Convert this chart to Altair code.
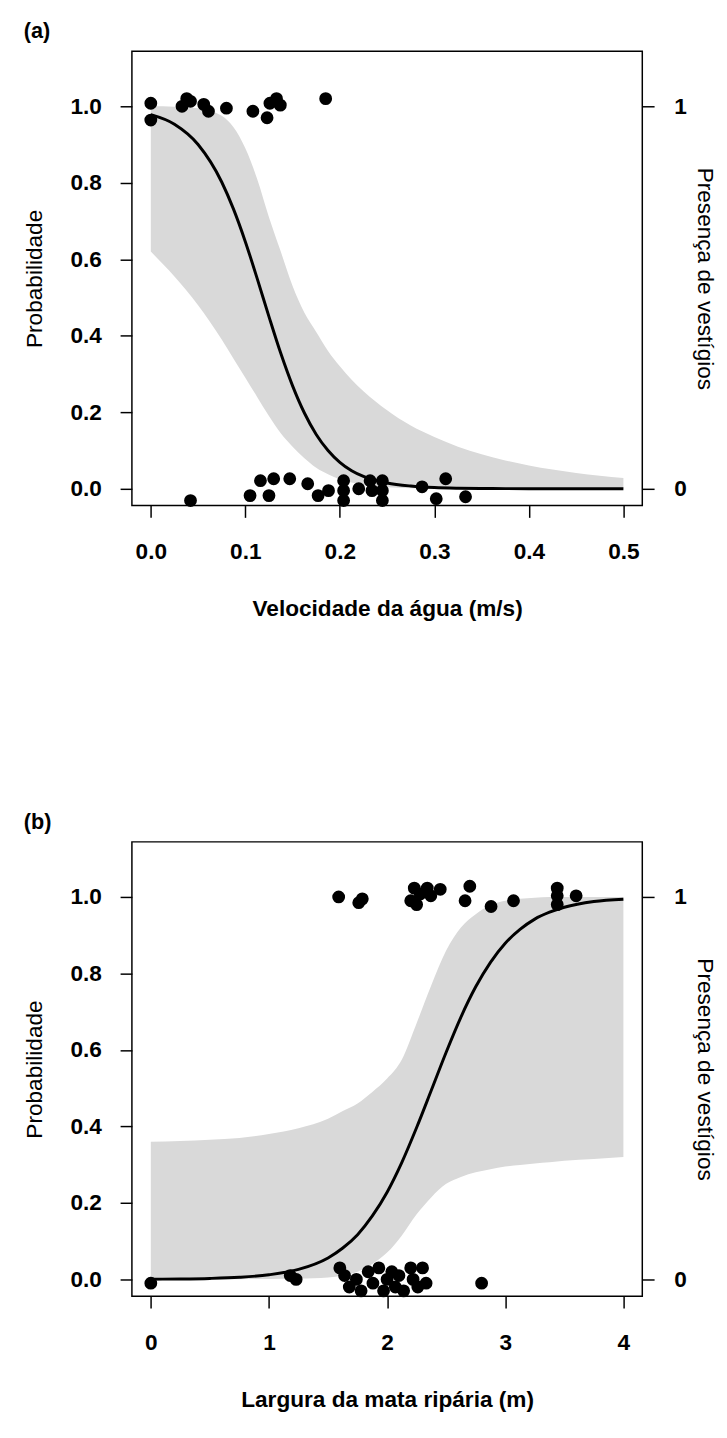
import altair as alt
import pandas as pd

# ---------------- Panel (a): Velocidade da água ----------------
a_x = [0, 0.025, 0.05, 0.075, 0.0875, 0.1, 0.1125, 0.125, 0.1375, 0.15, 0.1625, 0.175,
       0.1875, 0.2, 0.2125, 0.225, 0.25, 0.275, 0.3, 0.325, 0.35, 0.375, 0.4, 0.425,
       0.45, 0.475, 0.5]
a_fit = [0.978, 0.953, 0.900, 0.802, 0.731, 0.646, 0.55, 0.450, 0.354, 0.269, 0.198, 0.142,
         0.10, 0.069, 0.047, 0.032, 0.015, 0.007, 0.003, 0.0013, 0.0006, 0.0003, 0.0001,
         0.0001, 0.0, 0.0, 0.0]
a_lo = [0.62, 0.555, 0.48, 0.39, 0.34, 0.29, 0.24, 0.19, 0.145, 0.11, 0.08, 0.055,
        0.038, 0.025, 0.016, 0.01, 0.004, 0.0015, 0.0006, 0.0002, 0.0001, 0.0, 0.0, 0.0,
        0.0, 0.0, 0.0]
a_hi = [1.0, 0.999, 0.995, 0.975, 0.945, 0.89, 0.81, 0.71, 0.62, 0.53, 0.46, 0.41,
        0.36, 0.32, 0.285, 0.255, 0.205, 0.165, 0.135, 0.11, 0.09, 0.074, 0.061, 0.05,
        0.041, 0.034, 0.028]

a_pts_x = [0.0, 0.0, 0.033, 0.038, 0.042, 0.056, 0.061, 0.080, 0.108, 0.123, 0.126,
           0.133, 0.137, 0.185,
           0.042, 0.105, 0.116, 0.125, 0.130, 0.147, 0.166, 0.177, 0.188, 0.204,
           0.204, 0.204, 0.220, 0.232, 0.234, 0.245, 0.245, 0.245, 0.287, 0.302,
           0.312, 0.333]
a_pts_y = [1.008, 0.964, 1.0, 1.02, 1.013, 1.005, 0.987, 0.995, 0.987, 0.97, 1.008,
           1.02, 1.003, 1.02,
           -0.031, -0.018, 0.021, -0.018, 0.026, 0.026, 0.013, -0.018, -0.005, 0.021,
           -0.005, -0.031, 0.0, 0.021, -0.005, 0.021, -0.005, -0.031, 0.005, -0.026,
           0.026, -0.021]

# ---------------- Panel (b): Largura da mata ripária ----------------
b_x = [0, 0.25, 0.5, 0.75, 1.0, 1.25, 1.5, 1.625, 1.75, 1.875, 2.0, 2.125, 2.25, 2.375,
       2.5, 2.625, 2.75, 2.875, 3.0, 3.125, 3.25, 3.375, 3.5, 3.75, 4.0]
b_fit = [0.0005, 0.0011, 0.0025, 0.0055, 0.012, 0.026, 0.056, 0.082, 0.117, 0.166, 0.228,
         0.306, 0.397, 0.495, 0.594, 0.686, 0.765, 0.829, 0.879, 0.915, 0.942, 0.96,
         0.973, 0.988, 0.994]
b_lo = [0.0, 0.0, 0.0002, 0.0005, 0.001, 0.002, 0.005, 0.01, 0.02, 0.04, 0.07, 0.115,
        0.17, 0.215, 0.25, 0.268, 0.28, 0.288, 0.295, 0.299, 0.303, 0.306, 0.31, 0.315,
        0.32]
b_hi = [0.36, 0.362, 0.365, 0.37, 0.38, 0.395, 0.42, 0.44, 0.46, 0.49, 0.525, 0.575,
        0.67, 0.77, 0.86, 0.92, 0.955, 0.978, 0.99, 0.995, 0.998, 1.0, 1.0, 1.0, 1.0]

b_pts_x = [1.59, 1.76, 1.79, 2.20, 2.23, 2.25, 2.28, 2.34, 2.37, 2.45, 2.66, 2.70,
           2.88, 3.07, 3.44, 3.44, 3.44, 3.60,
           0.0, 1.18, 1.23, 1.60, 1.64, 1.68, 1.74, 1.78, 1.84, 1.88, 1.93, 1.97,
           2.00, 2.04, 2.07, 2.10, 2.14, 2.20, 2.22, 2.26, 2.30, 2.33, 2.80]
b_pts_y = [1.0, 0.985, 0.995, 0.99, 1.023, 0.98, 1.008, 1.023, 1.003, 1.02, 0.99, 1.028,
           0.975, 0.99, 1.023, 1.003, 0.98, 1.003,
           -0.01, 0.01, 0.0, 0.03, 0.01, -0.02, 0.0, -0.03, 0.02, -0.01, 0.03, -0.03,
           0.0, 0.02, -0.02, 0.01, -0.03, 0.03, 0.0, -0.02, 0.03, -0.01, -0.01]

y_ticks = [0, 0.2, 0.4, 0.6, 0.8, 1.0]
y_domain = [-0.044, 1.144]
FONT = "Liberation Sans"


def panel(title, xs, fit, lo, hi, px, py, xdom, xvals, xfmt, xtitle):
    curve = pd.DataFrame({"x": xs, "fit": fit, "lo": lo, "hi": hi})
    pts = pd.DataFrame({"x": px, "y": py})
    xsc = alt.Scale(domain=xdom, nice=False, zero=False)
    ysc = alt.Scale(domain=y_domain, nice=False, zero=False)
    xax = alt.Axis(values=xvals, format=xfmt, title=xtitle, labelPadding=24,
                   titlePadding=35, titleFontWeight="bold", titleFontSize=23)
    xenc = alt.X("x:Q", scale=xsc, axis=xax)
    band = alt.Chart(curve).mark_area(color="#d9d9d9", opacity=1,
                                      interpolate="monotone").encode(
        x=xenc,
        y=alt.Y("lo:Q", scale=ysc,
                axis=alt.Axis(values=y_ticks, format=".1f", title="Probabilidade",
                              orient="left", labelPadding=19, titlePadding=24)),
        y2="hi:Q",
    )
    line = alt.Chart(curve).mark_line(color="black", strokeWidth=3,
                                      interpolate="monotone").encode(
        x=xenc,
        y=alt.Y("fit:Q", scale=ysc, axis=None),
    )
    dots = alt.Chart(pts).mark_circle(color="black", size=170, opacity=1).encode(
        x=xenc,
        y=alt.Y("y:Q", scale=ysc,
                axis=alt.Axis(values=[0, 1], format=".0f", title="Presença de vestígios",
                              orient="right", labelPadding=20, titlePadding=6)),
    )
    return alt.layer(band, line, dots).resolve_scale(y="independent").properties(
        width=519, height=462,
        title=alt.TitleParams(title, anchor="start", fontSize=22, fontWeight="bold",
                              font=FONT, color="black", offset=8),
    )


pa = panel("(a)", a_x, a_fit, a_lo, a_hi, a_pts_x, a_pts_y, [-0.02, 0.52],
           [0, 0.1, 0.2, 0.3, 0.4, 0.5], ".1f", "Velocidade da água (m/s)")
pb = panel("(b)", b_x, b_fit, b_lo, b_hi, b_pts_x, b_pts_y, [-0.16, 4.16],
           [0, 1, 2, 3, 4], "d", "Largura da mata ripária (m)")

chart = alt.vconcat(pa, pb, spacing=192).properties(
    padding={"left": 15, "top": 0, "right": 3, "bottom": 0}
).configure_view(
    stroke="black", strokeWidth=1.5
).configure_axis(
    labelFont=FONT, labelFontWeight="bold", labelFontSize=23, labelColor="black",
    titleFont=FONT, titleFontSize=23, titleFontWeight="normal", titleColor="black",
    tickColor="black", tickSize=12, tickWidth=1.5, domain=False, grid=False,
)

chart.save("out.html", embed_options={"renderer": "svg", "actions": False})
